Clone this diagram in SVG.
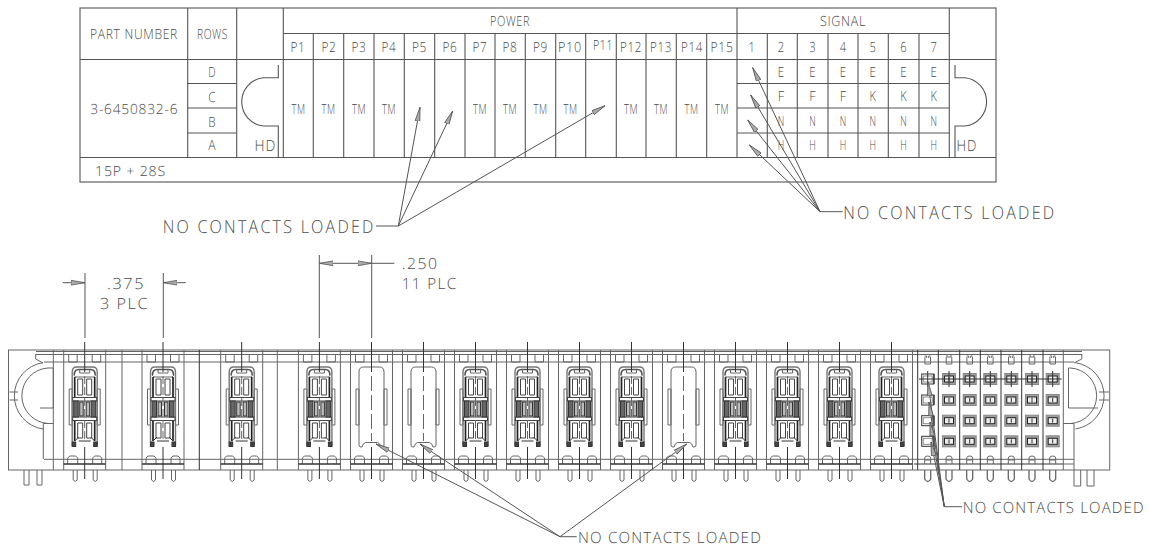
<svg xmlns="http://www.w3.org/2000/svg" width="1149" height="546" viewBox="0 0 1149 546">
<style>
text{font-family:"Open Sans","Liberation Sans",Arial,sans-serif;font-weight:300;fill:#4a4a4a;font-size:14px;text-anchor:middle;letter-spacing:.8px;text-rendering:geometricPrecision}
#table-text,#labels{opacity:.99}
.s{text-anchor:start}
.big{font-size:18px;letter-spacing:2.500px}
.mid{font-size:15.500px;letter-spacing:1.200px}
.dim{font-size:15.500px;letter-spacing:1.500px}
.t line,.t path,.t rect{fill:none;stroke:#555;stroke-width:1.100}
.b line,.b path,.b rect{fill:none;stroke:#666;stroke-width:1}
.d{stroke:#333!important}
.ld line,.ld path{fill:none;stroke:#555;stroke-width:1}
</style>
<defs>
<marker id="ah" markerUnits="userSpaceOnUse" markerWidth="16" markerHeight="8" refX="14" refY="4" orient="auto"><path d="M14 4L0 1.600V6.400Z" fill="#aaa" stroke="#555" stroke-width=".8"/></marker>
<g id="cell" class="b">
<line x1="-21" y1="350" x2="-21" y2="470"/><line x1="21" y1="350" x2="21" y2="470"/>
<path d="M-16 355V362H-7.500V355M7.500 355V362H16V355"/>
<path d="M-17 464V458L-15 456H-9L-7 458V464M8 464V458L10 456H15L17 458V464"/>
<line class="d" x1="-21" y1="464" x2="21" y2="464" style="stroke-width:1.300"/>
<path d="M-11.500 470V480Q-9.500 483 -7.500 480V470M8.500 470V480Q10.500 483 12.500 480V470"/>
<path d="M-15.500 389H-12.500V425H-15.500ZM12.500 389H15.500V425H12.500Z"/>
</g>
<g id="power" class="b">
<use href="#cell"/>
<path d="M-12.500 446V372Q-12.500 367 -8 367H8Q12.500 367 12.500 372V446" style="stroke:#777;stroke-width:1.400"/>
<path d="M-10.500 375Q-10.500 369.500 -6 369.500H6Q10.500 369.500 10.500 375" style="stroke:#555;stroke-width:1.600"/>
<path d="M-5 369V373H5V369M-11 375L-9 377H9L11 375"/>
<path d="M-10 377V397M10 377V397M-10 421V441M10 421V441" style="stroke:#222;stroke-width:1.700"/>
<path d="M-7 379H-2V395H-7ZM2 379H7V395H2ZM-7 423H-2V438H-7ZM2 423H7V438H2Z" style="stroke:#444"/>
<rect x="-12" y="397.500" width="24" height="3.500" style="fill:#fff;stroke:#444"/>
<rect x="-12" y="417" width="24" height="3.500" style="fill:#fff;stroke:#444"/>
<rect x="-11" y="401" width="4.500" height="16" style="fill:#666;stroke:#333"/>
<rect x="6.500" y="401" width="4.500" height="16" style="fill:#666;stroke:#333"/>
<rect x="-5" y="402" width="3.500" height="14" style="fill:#bbb;stroke:#333"/>
<rect x="1.500" y="402" width="3.500" height="14" style="fill:#bbb;stroke:#333"/>
<path d="M-10 441L-6 437M10 441L6 437M-6 441H6" style="stroke:#333"/>
<rect x="-12.500" y="442" width="3.500" height="4.500" style="fill:#444;stroke:#333"/>
<rect x="9" y="442" width="3.500" height="4.500" style="fill:#444;stroke:#333"/>
<line class="d" x1="0" y1="342" x2="0" y2="372"/>
<line x1="0" y1="376" x2="0" y2="441" stroke-dasharray="8 3"/>
<line class="d" x1="0" y1="447" x2="0" y2="479"/>
</g>
<g id="blank" class="b">
<use href="#cell"/>
<path d="M-12.500 372Q-12.500 367 -8 367H8Q12.500 367 12.500 372V445Q12.500 447 10.500 447H9.500Q8.500 443 6 442.500H-6Q-8.500 443 -9.500 447H-10.500Q-12.500 447 -12.500 445Z"/>
<line class="d" x1="0" y1="342" x2="0" y2="372"/>
<line x1="0" y1="376" x2="0" y2="441" stroke-dasharray="15 4"/>
<line class="d" x1="0" y1="447" x2="0" y2="479"/>
</g>
<g id="sigcol" class="b">
<path d="M-2.800 357V364H2.800V357M-3 356H-1V358M3 356H1V358"/>
<path d="M-3 464V458Q-3 456 0 456Q3 456 3 458V464M-3 460H3"/>
<path d="M-3 470V479Q0 484 3 479V470" style="stroke-width:1.300"/>
</g>
<g id="sig" class="b">
<rect x="-6.500" y="-5.500" width="13" height="11" style="fill:#a0a0a0;stroke:#888"/>
<rect x="-4.500" y="-3" width="9" height="6" style="fill:#eee;stroke:#222"/>
<line x1="0" y1="-2" x2="0" y2="2" class="d"/>
</g>
<g id="sigE" class="b">
<rect x="-6" y="-5" width="12" height="10" style="fill:#fff;stroke:#333"/>
<rect x="-4.500" y="-3" width="9" height="6" style="fill:#fff;stroke:#888"/>
<line x1="6.500" y1="-5" x2="6.500" y2="5" class="d"/>
</g>
</defs>

<g id="table" class="t">
<rect x="80" y="8" width="916" height="174"/>
<line x1="80" y1="59.500" x2="996" y2="59.500"/>
<line x1="80" y1="157.500" x2="996" y2="157.500"/>
<line x1="283.300" y1="33.500" x2="949.300" y2="33.500"/>
<line x1="187.700" y1="83.500" x2="236.700" y2="83.500"/><line x1="187.700" y1="108" x2="236.700" y2="108"/><line x1="187.700" y1="133" x2="236.700" y2="133"/>
<line x1="737" y1="83.500" x2="949.300" y2="83.500"/><line x1="737" y1="108" x2="949.300" y2="108"/><line x1="737" y1="133" x2="949.300" y2="133"/>
<line x1="187.700" y1="8" x2="187.700" y2="157.500"/><line x1="236.700" y1="8" x2="236.700" y2="157.500"/><line x1="283.300" y1="8" x2="283.300" y2="157.500"/>
<line x1="737" y1="8" x2="737" y2="157.500"/><line x1="949.300" y1="8" x2="949.300" y2="157.500"/>
<line x1="313.300" y1="33.500" x2="313.300" y2="157.500"/><line x1="343.700" y1="33.500" x2="343.700" y2="157.500"/><line x1="374" y1="33.500" x2="374" y2="157.500"/><line x1="404.300" y1="33.500" x2="404.300" y2="157.500"/><line x1="434.700" y1="33.500" x2="434.700" y2="157.500"/><line x1="465" y1="33.500" x2="465" y2="157.500"/><line x1="495" y1="33.500" x2="495" y2="157.500"/><line x1="525.300" y1="33.500" x2="525.300" y2="157.500"/><line x1="555.700" y1="33.500" x2="555.700" y2="157.500"/><line x1="585.700" y1="33.500" x2="585.700" y2="157.500"/><line x1="616.300" y1="33.500" x2="616.300" y2="157.500"/><line x1="646" y1="33.500" x2="646" y2="157.500"/><line x1="676.300" y1="33.500" x2="676.300" y2="157.500"/><line x1="706.700" y1="33.500" x2="706.700" y2="157.500"/>
<line x1="767.300" y1="33.500" x2="767.300" y2="157.500"/><line x1="797.300" y1="33.500" x2="797.300" y2="157.500"/><line x1="828" y1="33.500" x2="828" y2="157.500"/><line x1="858" y1="33.500" x2="858" y2="157.500"/><line x1="888.300" y1="33.500" x2="888.300" y2="157.500"/><line x1="919" y1="33.500" x2="919" y2="157.500"/>
<path d="M278.300 65V77.700H263.300A24.300 24.300 0 0 0 263.300 126H278.300V157.500"/>
<path d="M955 65V77.700H965A24.300 24.300 0 0 1 965 126H955V157.500"/>
</g>

<g id="table-text">
<text x="134" y="39" textLength="88" lengthAdjust="spacingAndGlyphs">PART NUMBER</text>
<text x="212.500" y="39" textLength="31" lengthAdjust="spacingAndGlyphs">ROWS</text>
<text x="510" y="26" textLength="40" lengthAdjust="spacingAndGlyphs">POWER</text>
<text x="843" y="26" textLength="46" lengthAdjust="spacingAndGlyphs">SIGNAL</text>
<text x="134.300" y="114" textLength="88" lengthAdjust="spacingAndGlyphs">3-6450832-6</text>
<text x="265.500" y="150.500" class="mid" textLength="22" lengthAdjust="spacingAndGlyphs">HD</text>
<text x="967" y="150.500" class="mid" textLength="21" lengthAdjust="spacingAndGlyphs">HD</text>
<text x="95" y="176" class="s" textLength="71" lengthAdjust="spacingAndGlyphs">15P + 28S</text>
<text x="212.300" y="77" textLength="8" lengthAdjust="spacingAndGlyphs">D</text><text x="212.300" y="101.500" textLength="8" lengthAdjust="spacingAndGlyphs">C</text><text x="212.300" y="126.500" textLength="8" lengthAdjust="spacingAndGlyphs">B</text><text x="212.300" y="150" textLength="8" lengthAdjust="spacingAndGlyphs">A</text>
<text x="298" y="51.500" textLength="15" lengthAdjust="spacingAndGlyphs">P1</text><text x="329" y="51.500" textLength="15" lengthAdjust="spacingAndGlyphs">P2</text><text x="359" y="51.500" textLength="15" lengthAdjust="spacingAndGlyphs">P3</text><text x="389" y="51.500" textLength="15" lengthAdjust="spacingAndGlyphs">P4</text><text x="419.500" y="51.500" textLength="15" lengthAdjust="spacingAndGlyphs">P5</text><text x="450" y="51.500" textLength="15" lengthAdjust="spacingAndGlyphs">P6</text><text x="480" y="51.500" textLength="15" lengthAdjust="spacingAndGlyphs">P7</text><text x="510" y="51.500" textLength="15" lengthAdjust="spacingAndGlyphs">P8</text><text x="540.500" y="51.500" textLength="15" lengthAdjust="spacingAndGlyphs">P9</text>
<text x="570" y="51.500" textLength="24" lengthAdjust="spacingAndGlyphs">P10</text><text x="603" y="50" textLength="20" lengthAdjust="spacingAndGlyphs">P11</text><text x="631" y="51.500" textLength="22" lengthAdjust="spacingAndGlyphs">P12</text><text x="661" y="51.500" textLength="22" lengthAdjust="spacingAndGlyphs">P13</text><text x="692" y="51.500" textLength="22" lengthAdjust="spacingAndGlyphs">P14</text><text x="722" y="51.500" textLength="23" lengthAdjust="spacingAndGlyphs">P15</text>
<text x="752" y="51.500" textLength="7" lengthAdjust="spacingAndGlyphs">1</text><text x="781.300" y="51.500" textLength="7" lengthAdjust="spacingAndGlyphs">2</text><text x="812.700" y="51.500" textLength="7" lengthAdjust="spacingAndGlyphs">3</text><text x="843.300" y="51.500" textLength="7" lengthAdjust="spacingAndGlyphs">4</text><text x="873" y="51.500" textLength="7" lengthAdjust="spacingAndGlyphs">5</text><text x="903.700" y="51.500" textLength="7" lengthAdjust="spacingAndGlyphs">6</text><text x="934" y="51.500" textLength="7" lengthAdjust="spacingAndGlyphs">7</text>
<text x="298.500" y="113.500" textLength="14" lengthAdjust="spacingAndGlyphs">TM</text><text x="328.500" y="113.500" textLength="14" lengthAdjust="spacingAndGlyphs">TM</text><text x="359" y="113.500" textLength="14" lengthAdjust="spacingAndGlyphs">TM</text><text x="389" y="113.500" textLength="14" lengthAdjust="spacingAndGlyphs">TM</text><text x="480" y="113.500" textLength="14" lengthAdjust="spacingAndGlyphs">TM</text><text x="510" y="113.500" textLength="14" lengthAdjust="spacingAndGlyphs">TM</text><text x="540.500" y="113.500" textLength="14" lengthAdjust="spacingAndGlyphs">TM</text><text x="570.500" y="113.500" textLength="14" lengthAdjust="spacingAndGlyphs">TM</text><text x="631" y="113.500" textLength="14" lengthAdjust="spacingAndGlyphs">TM</text><text x="661" y="113.500" textLength="14" lengthAdjust="spacingAndGlyphs">TM</text><text x="691.500" y="113.500" textLength="14" lengthAdjust="spacingAndGlyphs">TM</text><text x="722" y="113.500" textLength="14" lengthAdjust="spacingAndGlyphs">TM</text>
<text x="781.300" y="77" textLength="7" lengthAdjust="spacingAndGlyphs">E</text><text x="812.700" y="77" textLength="7" lengthAdjust="spacingAndGlyphs">E</text><text x="843.300" y="77" textLength="7" lengthAdjust="spacingAndGlyphs">E</text><text x="873" y="77" textLength="7" lengthAdjust="spacingAndGlyphs">E</text><text x="903.700" y="77" textLength="7" lengthAdjust="spacingAndGlyphs">E</text><text x="934" y="77" textLength="7" lengthAdjust="spacingAndGlyphs">E</text>
<text x="781.300" y="101" textLength="7" lengthAdjust="spacingAndGlyphs">F</text><text x="812.700" y="101" textLength="7" lengthAdjust="spacingAndGlyphs">F</text><text x="843.300" y="101" textLength="7" lengthAdjust="spacingAndGlyphs">F</text><text x="873" y="101" textLength="7" lengthAdjust="spacingAndGlyphs">K</text><text x="903.700" y="101" textLength="7" lengthAdjust="spacingAndGlyphs">K</text><text x="934" y="101" textLength="7" lengthAdjust="spacingAndGlyphs">K</text>
<text x="781.300" y="126" textLength="7" lengthAdjust="spacingAndGlyphs">N</text><text x="812.700" y="126" textLength="7" lengthAdjust="spacingAndGlyphs">N</text><text x="843.300" y="126" textLength="7" lengthAdjust="spacingAndGlyphs">N</text><text x="873" y="126" textLength="7" lengthAdjust="spacingAndGlyphs">N</text><text x="903.700" y="126" textLength="7" lengthAdjust="spacingAndGlyphs">N</text><text x="934" y="126" textLength="7" lengthAdjust="spacingAndGlyphs">N</text>
<text x="781.300" y="150" textLength="7" lengthAdjust="spacingAndGlyphs">H</text><text x="812.700" y="150" textLength="7" lengthAdjust="spacingAndGlyphs">H</text><text x="843.300" y="150" textLength="7" lengthAdjust="spacingAndGlyphs">H</text><text x="873" y="150" textLength="7" lengthAdjust="spacingAndGlyphs">H</text><text x="903.700" y="150" textLength="7" lengthAdjust="spacingAndGlyphs">H</text><text x="934" y="150" textLength="7" lengthAdjust="spacingAndGlyphs">H</text>
</g>

<g id="connector-body" class="b">
<rect x="8.500" y="350" width="1101.200" height="120"/>
<line x1="36" y1="351.500" x2="1082" y2="351.500"/><line x1="36" y1="354.500" x2="1082" y2="354.500"/>
<line x1="44" y1="362" x2="1074" y2="362"/>
<line x1="44" y1="459.300" x2="1074" y2="459.300"/>
<path d="M35.700 354V359L43 363M1081.800 354V359L1074 363"/>
<path d="M43 362.700A33.500 33.500 0 0 0 43 429M48 368A27.800 27.800 0 0 0 48 423.500M53.300 368H48M9.500 392H18M9.500 400H18M53.300 368V408H40M43.300 423.500H53.300M43.300 423.500V459"/>
<path d="M1075.400 362.700A33.500 33.500 0 0 1 1075.400 429M1070.500 368A27.800 27.800 0 0 1 1070.500 423.500M1068.500 368H1070.500M1099 392H1109M1099 400H1109M1068.500 368V408H1098M1063.300 423.500H1074M1074 423.500V470M1063.300 464H1074"/>
<line x1="53.300" y1="350" x2="53.300" y2="470"/><line x1="122" y1="350" x2="122" y2="470"/><line class="d" x1="199.300" y1="350" x2="199.300" y2="470"/><line x1="277.300" y1="350" x2="277.300" y2="470"/>
<path d="M24 470V485H29V470M37 470V485H42V470M1074 470V486H1080.700V470M1087 470V486H1094V470"/>
<use href="#power" x="84.700"/><use href="#power" x="163"/><use href="#power" x="241.700"/><use href="#power" x="319.400"/>
<use href="#blank" x="371.500"/><use href="#blank" x="423.500"/>
<use href="#power" x="475.500"/><use href="#power" x="527.500"/><use href="#power" x="579.500"/><use href="#power" x="631.500"/>
<use href="#blank" x="683.500"/>
<use href="#power" x="735.500"/><use href="#power" x="787.500"/><use href="#power" x="839.500"/><use href="#power" x="891.500"/>
<g id="signal-block">
<line class="d" x1="917.700" y1="350" x2="917.700" y2="470"/><line class="d" x1="938.300" y1="350" x2="938.300" y2="470"/><line class="d" x1="959.700" y1="350" x2="959.700" y2="470"/><line class="d" x1="980.300" y1="350" x2="980.300" y2="470"/><line class="d" x1="1001" y1="350" x2="1001" y2="470"/><line class="d" x1="1021.700" y1="350" x2="1021.700" y2="470"/><line class="d" x1="1043" y1="350" x2="1043" y2="470"/><line x1="1063.300" y1="350" x2="1063.300" y2="470"/>
<line class="d" x1="914" y1="464" x2="1063" y2="464"/>
<use href="#sigcol" x="927.700"/><use href="#sigcol" x="949"/><use href="#sigcol" x="969.700"/><use href="#sigcol" x="990.300"/><use href="#sigcol" x="1011.300"/><use href="#sigcol" x="1032"/><use href="#sigcol" x="1052.700"/>
<use href="#sigE" x="927.700" y="379"/><use href="#sigE" x="927.700" y="400"/><use href="#sigE" x="927.700" y="420.700"/><use href="#sigE" x="927.700" y="441.300"/>
<use href="#sig" x="949" y="379"/><use href="#sig" x="969.700" y="379"/><use href="#sig" x="990.300" y="379"/><use href="#sig" x="1011.300" y="379"/><use href="#sig" x="1032" y="379"/><use href="#sig" x="1052.700" y="379"/>
<use href="#sig" x="949" y="400"/><use href="#sig" x="969.700" y="400"/><use href="#sig" x="990.300" y="400"/><use href="#sig" x="1011.300" y="400"/><use href="#sig" x="1032" y="400"/><use href="#sig" x="1052.700" y="400"/>
<use href="#sig" x="949" y="420.700"/><use href="#sig" x="969.700" y="420.700"/><use href="#sig" x="990.300" y="420.700"/><use href="#sig" x="1011.300" y="420.700"/><use href="#sig" x="1032" y="420.700"/><use href="#sig" x="1052.700" y="420.700"/>
<use href="#sig" x="949" y="441.300"/><use href="#sig" x="969.700" y="441.300"/><use href="#sig" x="990.300" y="441.300"/><use href="#sig" x="1011.300" y="441.300"/><use href="#sig" x="1032" y="441.300"/><use href="#sig" x="1052.700" y="441.300"/>
<line class="d" x1="919" y1="379" x2="1061.700" y2="379"/>
<path class="d" d="M927.700 371V387M949 371V387M969.700 371V387M990.300 371V387M1011.300 371V387M1032 371V387M1052.700 371V387"/>
</g>
</g>

<g id="connectors" class="ld">
<line x1="376" y1="226" x2="398.300" y2="226"/>
<line x1="398.300" y1="226" x2="420" y2="107.300" marker-end="url(#ah)"/>
<line x1="398.300" y1="226" x2="452.700" y2="111" marker-end="url(#ah)"/>
<line x1="398.300" y1="226" x2="605" y2="105.700" marker-end="url(#ah)"/>
<line x1="820" y1="211.700" x2="842.700" y2="211.700"/>
<line x1="820" y1="211.700" x2="752.700" y2="67.700" marker-end="url(#ah)"/>
<line x1="820" y1="211.700" x2="750.700" y2="95" marker-end="url(#ah)"/>
<line x1="820" y1="211.700" x2="747.700" y2="120" marker-end="url(#ah)"/>
<line x1="820" y1="211.700" x2="749.300" y2="145" marker-end="url(#ah)"/>
<line x1="560" y1="536.700" x2="576.700" y2="536.700"/>
<line x1="560" y1="536.700" x2="376" y2="444" marker-end="url(#ah)"/>
<line x1="560" y1="536.700" x2="420" y2="444" marker-end="url(#ah)"/>
<line x1="560" y1="536.700" x2="686.700" y2="444" marker-end="url(#ah)"/>
<line x1="962" y1="506.700" x2="944.300" y2="506.700"/>
<line x1="944.300" y1="506.700" x2="928" y2="382" marker-end="url(#ah)"/>
<line x1="944.300" y1="506.700" x2="929" y2="402" marker-end="url(#ah)"/>
<line x1="944.300" y1="506.700" x2="930" y2="422" marker-end="url(#ah)"/>
<line x1="944.300" y1="506.700" x2="931" y2="442" marker-end="url(#ah)"/>
<line x1="85" y1="273" x2="85" y2="338"/><line x1="163.300" y1="273" x2="163.300" y2="338"/>
<line x1="62.700" y1="282.700" x2="85" y2="282.700" marker-end="url(#ah)"/>
<line x1="185.700" y1="282.700" x2="163.300" y2="282.700" marker-end="url(#ah)"/>
<line x1="319.300" y1="255" x2="319.300" y2="338"/><line x1="371.700" y1="255" x2="371.700" y2="338"/>
<line x1="345" y1="263.300" x2="319.300" y2="263.300" marker-end="url(#ah)"/>
<line x1="345" y1="263.300" x2="371.700" y2="263.300" marker-end="url(#ah)"/>
<line x1="371.700" y1="263.300" x2="394.300" y2="263.300"/>
</g>

<g id="labels">
<text x="162.700" y="233" class="s big" textLength="213" lengthAdjust="spacingAndGlyphs">NO CONTACTS LOADED</text>
<text x="843.300" y="219" class="s big" textLength="213" lengthAdjust="spacingAndGlyphs">NO CONTACTS LOADED</text>
<text x="578" y="542.500" class="s mid" textLength="184" lengthAdjust="spacingAndGlyphs">NO CONTACTS LOADED</text>
<text x="962.700" y="513.300" class="s mid" textLength="182" lengthAdjust="spacingAndGlyphs">NO CONTACTS LOADED</text>
<text x="107" y="288.500" class="s dim" textLength="38" lengthAdjust="spacingAndGlyphs">.375</text>
<text x="100" y="308.500" class="s dim" textLength="49" lengthAdjust="spacingAndGlyphs">3 PLC</text>
<text x="401.700" y="268.500" class="s dim" textLength="37" lengthAdjust="spacingAndGlyphs">.250</text>
<text x="401.700" y="289" class="s dim" textLength="56" lengthAdjust="spacingAndGlyphs">11 PLC</text>
</g>
</svg>
